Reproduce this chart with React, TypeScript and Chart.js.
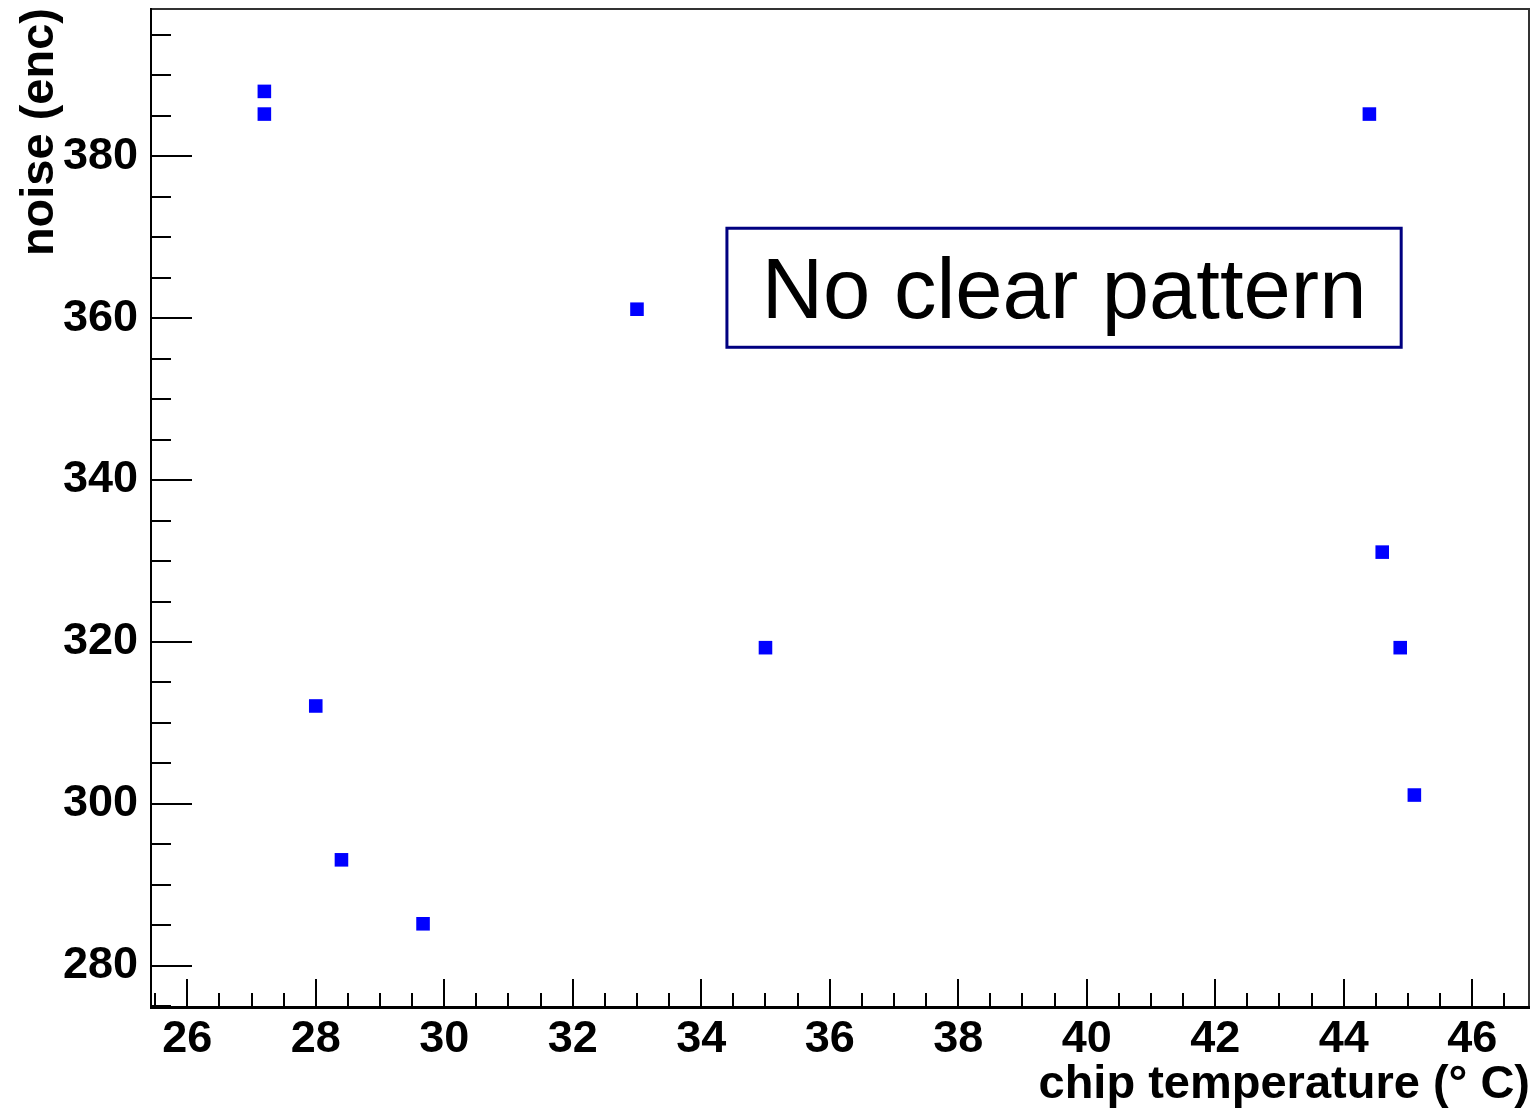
import React, { useEffect, useRef } from "react";
import { Chart, registerables } from "chart.js";

Chart.register(...registerables);

// Measured chip temperature (°C) and noise (enc) per run
const chipTemperature = [27.2, 27.2, 28.0, 28.4, 29.67, 33.0, 35.0, 44.4, 44.6, 44.88, 45.1];
const noiseEnc = [388.0, 385.2, 312.1, 293.1, 285.2, 361.1, 319.3, 385.2, 331.1, 319.3, 301.1];

// Axis ranges and labelled ticks
const xRange = [25.42, 46.9];
const yRange = [274.8, 398.3];
const xMajorTicks = [26, 28, 30, 32, 34, 36, 38, 40, 42, 44, 46];
const yMajorTicks = [280, 300, 320, 340, 360, 380];
const xMinorStep = 0.5;
const yMinorStep = 5;

const xTitle = "chip temperature (° C)";
const yTitle = "noise (enc)";
const noteText = "No clear pattern";

const FONT = '"Liberation Sans", Arial, Helvetica, sans-serif';

// Frame, inward tick marks and the text box, drawn on top of the scatter
const framePlugin = {
  id: "frameAndNote",
  afterDraw(chart: any) {
    const { ctx, chartArea: a } = chart;
    const xs = chart.scales.x;
    const ys = chart.scales.y;
    ctx.save();

    // ticks on the x axis (pointing up into the plot)
    ctx.strokeStyle = "#000";
    ctx.lineWidth = 2;
    const xi0 = Math.ceil(xs.min / xMinorStep);
    const xi1 = Math.floor(xs.max / xMinorStep);
    for (let i = xi0; i <= xi1; i++) {
      const v = i * xMinorStep;
      const px = Math.round(xs.getPixelForValue(v));
      const major = xMajorTicks.includes(v);
      const len = major ? 29 : 15;
      ctx.beginPath();
      ctx.moveTo(px, a.bottom);
      ctx.lineTo(px, a.bottom - len);
      ctx.stroke();
    }

    // ticks on the y axis (pointing right into the plot)
    const yi0 = Math.ceil(ys.min / yMinorStep);
    const yi1 = Math.floor(ys.max / yMinorStep);
    for (let i = yi0; i <= yi1; i++) {
      const v = i * yMinorStep;
      const py = Math.round(ys.getPixelForValue(v));
      const major = yMajorTicks.includes(v);
      const len = major ? 42 : 21;
      ctx.beginPath();
      ctx.moveTo(a.left, py);
      ctx.lineTo(a.left + len, py);
      ctx.stroke();
    }

    // frame
    ctx.strokeStyle = "#333";
    ctx.lineWidth = 2;
    ctx.beginPath();
    ctx.moveTo(a.left, a.top + 1);
    ctx.lineTo(a.right - 1, a.top + 1);
    ctx.lineTo(a.right - 1, a.bottom);
    ctx.stroke();
    ctx.strokeStyle = "#000";
    ctx.beginPath();
    ctx.moveTo(a.left + 1, a.top);
    ctx.lineTo(a.left + 1, a.bottom);
    ctx.stroke();
    ctx.lineWidth = 3;
    ctx.beginPath();
    ctx.moveTo(a.left, a.bottom - 0.5);
    ctx.lineTo(a.right, a.bottom - 0.5);
    ctx.stroke();

    // text box, anchored in data coordinates
    const bx0 = xs.getPixelForValue(34.4);
    const bx1 = xs.getPixelForValue(44.895);
    const by0 = ys.getPixelForValue(371.1);
    const by1 = ys.getPixelForValue(356.4);
    ctx.fillStyle = "#fff";
    ctx.fillRect(bx0, by0, bx1 - bx0, by1 - by0);
    ctx.strokeStyle = "#000080";
    ctx.lineWidth = 3;
    ctx.strokeRect(bx0, by0, bx1 - bx0, by1 - by0);
    ctx.fillStyle = "#000";
    ctx.font = `85px ${FONT}`;
    ctx.textAlign = "center";
    ctx.textBaseline = "alphabetic";
    ctx.fillText(noteText, (bx0 + bx1) / 2, by0 + 90);

    ctx.restore();
  },
};

export default function App() {
  const canvasRef = useRef<HTMLCanvasElement | null>(null);

  useEffect(() => {
    const canvas = canvasRef.current;
    if (!canvas) return;
    const points = chipTemperature.map((t, i) => ({ x: t, y: noiseEnc[i] }));

    const chart = new Chart(canvas, {
      type: "scatter",
      data: {
        datasets: [
          {
            data: points,
            backgroundColor: "#0000ff",
            borderColor: "#0000ff",
            borderWidth: 0,
            pointStyle: "rect",
            pointRadius: 9.6,
            pointHoverRadius: 9.6,
          },
        ],
      },
      options: {
        responsive: false,
        animation: false,
        events: [],
        layout: { autoPadding: false, padding: { top: 8, right: 6, left: 0, bottom: 0 } },
        plugins: {
          legend: { display: false },
          tooltip: { enabled: false },
        },
        scales: {
          x: {
            type: "linear",
            min: xRange[0],
            max: xRange[1],
            afterBuildTicks: (scale: any) => {
              scale.ticks = xMajorTicks.map((v) => ({ value: v }));
            },
            afterFit: (scale: any) => {
              scale.height = 100;
              scale.paddingLeft = 0;
              scale.paddingRight = 0;
            },
            grid: { display: false, drawTicks: false },
            border: { display: false },
            ticks: {
              autoSkip: false,
              maxRotation: 0,
              padding: 5,
              color: "#000",
              font: { family: FONT, size: 45, weight: "bold" },
              callback: (v: any) => String(v),
            },
            title: {
              display: true,
              text: xTitle,
              align: "end",
              color: "#000",
              padding: { top: 0, bottom: -5 },
              font: { family: FONT, size: 47, weight: "bold" },
            },
          },
          y: {
            type: "linear",
            min: yRange[0],
            max: yRange[1],
            afterBuildTicks: (scale: any) => {
              scale.ticks = yMajorTicks.map((v) => ({ value: v }));
            },
            afterFit: (scale: any) => {
              scale.width = 150;
              scale.paddingTop = 0;
              scale.paddingBottom = 0;
            },
            grid: { display: false, drawTicks: false },
            border: { display: false },
            ticks: {
              autoSkip: false,
              padding: 12,
              color: "#000",
              font: { family: FONT, size: 45, weight: "bold" },
              callback: (v: any) => String(v),
            },
            title: {
              display: true,
              text: yTitle,
              align: "end",
              color: "#000",
              padding: { top: 12, bottom: 0 },
              font: { family: FONT, size: 47, weight: "bold" },
            },
          },
        },
      },
      plugins: [framePlugin],
    });

    return () => chart.destroy();
  }, []);

  return (
    <div style={{ position: "fixed", left: 0, top: 0, width: 1536, height: 1108, background: "#fff" }}>
      <canvas ref={canvasRef} width={1536} height={1108} style={{ width: 1536, height: 1108, display: "block" }} />
    </div>
  );
}
